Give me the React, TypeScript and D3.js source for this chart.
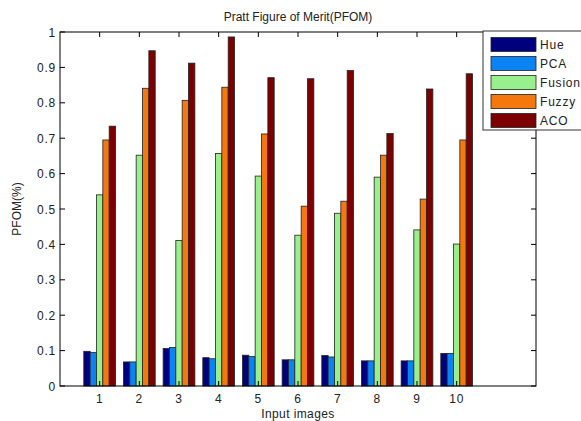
import React, { useEffect, useRef } from "react";
import * as d3 from "d3";

const images = ["1", "2", "3", "4", "5", "6", "7", "8", "9", "10"];
const seriesNames = ["Hue", "PCA", "Fusion", "Fuzzy", "ACO"];
const hue = [0.098, 0.068, 0.106, 0.080, 0.087, 0.074, 0.086, 0.071, 0.071, 0.092];
const pca = [0.095, 0.068, 0.109, 0.077, 0.083, 0.074, 0.082, 0.071, 0.071, 0.092];
const fusion = [0.540, 0.652, 0.411, 0.657, 0.593, 0.426, 0.488, 0.590, 0.441, 0.401];
const fuzzy = [0.695, 0.841, 0.807, 0.844, 0.712, 0.508, 0.522, 0.652, 0.528, 0.695];
const aco = [0.734, 0.947, 0.912, 0.986, 0.871, 0.868, 0.891, 0.713, 0.839, 0.882];
const yTicks = [0, 0.1, 0.2, 0.3, 0.4, 0.5, 0.6, 0.7, 0.8, 0.9, 1];
const colors = ["#00007f", "#0a84f5", "#98f08c", "#f5780f", "#7c0000"];

const W = 581;
const H = 421;
const FONT = "Liberation Sans, Arial, sans-serif";

export default function App() {
  const ref = useRef<SVGSVGElement>(null);

  useEffect(() => {
    const svg = d3.select(ref.current);
    svg.selectAll("*").remove();

    const left = 60, right = 536, top = 32, bottom = 386;
    const x = d3.scaleLinear().domain([0, 12]).range([left, right]);
    const y = d3.scaleLinear().domain([0, 1]).range([bottom, top]);
    const data = [hue, pca, fusion, fuzzy, aco];
    const bw = 0.16;

    // bars
    const g = svg.append("g");
    data.forEach((vals, j) => {
      g.selectAll(".b" + j)
        .data(vals)
        .join("rect")
        .attr("x", (d, i) => x(i + 1 + (j - 2.5) * bw))
        .attr("y", d => y(d))
        .attr("width", x(bw) - x(0))
        .attr("height", d => y(0) - y(d))
        .attr("fill", colors[j])
        .attr("stroke", "#222")
        .attr("stroke-width", 0.8);
    });

    // box
    svg.append("rect")
      .attr("x", left).attr("y", top)
      .attr("width", right - left).attr("height", bottom - top)
      .attr("fill", "none").attr("stroke", "#000").attr("stroke-width", 1);

    // ticks
    const tl = 5;
    const ax = svg.append("g").attr("stroke", "#000").attr("stroke-width", 1);
    yTicks.forEach(t => {
      ax.append("line").attr("x1", left).attr("x2", left + tl).attr("y1", y(t)).attr("y2", y(t));
      ax.append("line").attr("x1", right).attr("x2", right - tl).attr("y1", y(t)).attr("y2", y(t));
    });
    images.forEach((s, i) => {
      ax.append("line").attr("x1", x(i + 1)).attr("x2", x(i + 1)).attr("y1", bottom).attr("y2", bottom - tl);
      ax.append("line").attr("x1", x(i + 1)).attr("x2", x(i + 1)).attr("y1", top).attr("y2", top + tl);
    });

    const txt = svg.append("g").attr("font-family", FONT).attr("font-size", 12).attr("fill", "#222");
    txt.selectAll(".yl").data(yTicks).join("text")
      .attr("x", left - 4).attr("y", d => y(d) + 4.5)
      .attr("letter-spacing", 0.8)
      .attr("text-anchor", "end").text(d => d3.format("")(d));
    txt.selectAll(".xl").data(images).join("text")
      .attr("x", (d, i) => x(i + 1)).attr("y", bottom + 17)
      .attr("letter-spacing", 0.8)
      .attr("text-anchor", "middle").text(d => d);

    txt.append("text").attr("x", (left + right) / 2).attr("y", 21)
      .attr("text-anchor", "middle").text("Pratt Figure of Merit(PFOM)");
    txt.append("text").attr("x", (left + right) / 2).attr("y", 418)
      .attr("letter-spacing", 0.4)
      .attr("text-anchor", "middle").text("Input images");
    txt.append("text")
      .attr("transform", `translate(21, ${(top + bottom) / 2}) rotate(-90)`)
      .attr("text-anchor", "middle").text("PFOM(%)");

    // legend
    const lg = svg.append("g");
    lg.append("rect").attr("x", 483).attr("y", 31).attr("width", 110).attr("height", 99)
      .attr("fill", "#fff").attr("stroke", "#333").attr("stroke-width", 1);
    seriesNames.forEach((n, j) => {
      const cy = 44.5 + j * 19;
      lg.append("rect").attr("x", 491).attr("y", cy - 7).attr("width", 45).attr("height", 14)
        .attr("fill", colors[j]).attr("stroke", "#222").attr("stroke-width", 0.8);
      lg.append("text").attr("x", 540).attr("y", cy + 4.5)
        .attr("font-family", FONT).attr("font-size", 12).attr("letter-spacing", 0.8)
        .attr("fill", "#222").text(n);
    });
  }, []);

  return (
    <svg ref={ref} width={W} height={H}
      style={{ position: "absolute", left: 0, top: 0, background: "#fff" }} />
  );
}
